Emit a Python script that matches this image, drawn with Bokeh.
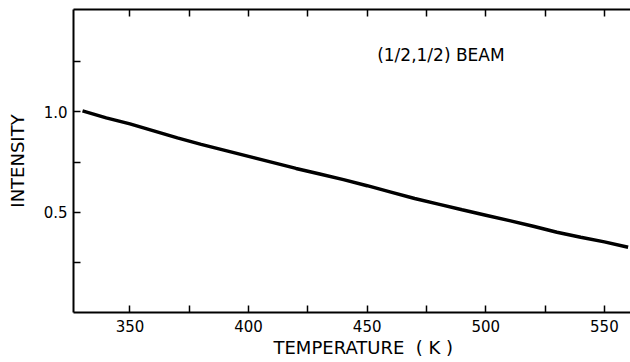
from bokeh.plotting import figure
from bokeh.models import LinearAxis, FixedTicker, Range1d, Label, Title
from bokeh.embed import file_html
from bokeh.resources import INLINE

# data
temperature = [330, 340, 350, 360, 370, 380, 390, 400, 410, 420, 430, 440,
               450, 460, 470, 480, 490, 500, 510, 520, 530, 540, 550, 560]
intensity = [1.005, 0.970, 0.940, 0.905, 0.870, 0.838, 0.808, 0.778, 0.748,
             0.718, 0.690, 0.662, 0.632, 0.600, 0.568, 0.540, 0.512, 0.485,
             0.458, 0.430, 0.400, 0.375, 0.352, 0.325]
x_ticks = [350, 375, 400, 425, 450, 475, 500, 525, 550]
x_labels = {350: "350", 375: "", 400: "400", 425: "", 450: "450", 475: "",
            500: "500", 525: "", 550: "550"}
top_labels = {t: "" for t in x_ticks}
y_ticks = [0.25, 0.5, 0.75, 1.0, 1.25]
y_labels = {0.25: "", 0.5: "0.5", 0.75: "", 1.0: "1.0", 1.25: ""}
x_title = "TEMPERATURE\u00a0\u00a0(\u00a0K\u00a0)"
y_title = "INTENSITY"
annotation = "(1/2,1/2) BEAM"

FONT = "DejaVu Sans"

p = figure(width=630, height=362, output_backend="svg", toolbar_location=None,
           x_range=Range1d(326.2, 561.0), y_range=Range1d(0, 1.51),
           x_axis_location=None, y_axis_location=None,
           min_border_left=73, min_border_right=0, min_border_top=9,
           min_border_bottom=50)
p.outline_line_color = None
p.grid.visible = False
p.background_fill_color = "white"
p.border_fill_color = "white"

def style(ax):
    ax.axis_line_color = "black"
    ax.axis_line_width = 2
    ax.major_tick_line_color = "black"
    ax.major_tick_line_width = 1.5
    ax.major_tick_in = 7
    ax.major_tick_out = 0
    ax.minor_tick_line_color = None
    ax.major_label_text_font = FONT
    ax.major_label_text_font_size = "15px"
    ax.major_label_text_color = "black"

xb = LinearAxis(ticker=FixedTicker(ticks=x_ticks), major_label_overrides=x_labels)
style(xb)
xb.major_label_standoff = 7
p.add_layout(xb, "below")

xt = LinearAxis(ticker=FixedTicker(ticks=x_ticks), major_label_overrides=top_labels)
style(xt)
xt.major_label_text_font_size = "1px"
xt.major_label_standoff = 0
p.add_layout(xt, "above")

yl = LinearAxis(ticker=FixedTicker(ticks=y_ticks), major_label_overrides=y_labels,
                axis_label=y_title)
style(yl)
yl.major_label_standoff = 6
yl.axis_label_text_font = FONT
yl.axis_label_text_font_size = "18px"
yl.axis_label_text_font_style = "normal"
yl.axis_label_text_color = "black"
yl.axis_label_standoff = 13
p.add_layout(yl, "left")

p.line(temperature, intensity, line_color="black", line_width=3.5)

p.add_layout(Label(x=454.2, y=1.283, text=annotation, text_font=FONT,
                   text_font_size="17px", text_baseline="middle",
                   text_align="left", text_color="black"))

xtitle = Title(text=x_title, align="left", offset=200, standoff=0,
               text_font=FONT, text_font_size="18px",
               text_font_style="normal", text_color="black")
p.add_layout(xtitle, "below")

open("out.html", "w").write(file_html(p, INLINE))
